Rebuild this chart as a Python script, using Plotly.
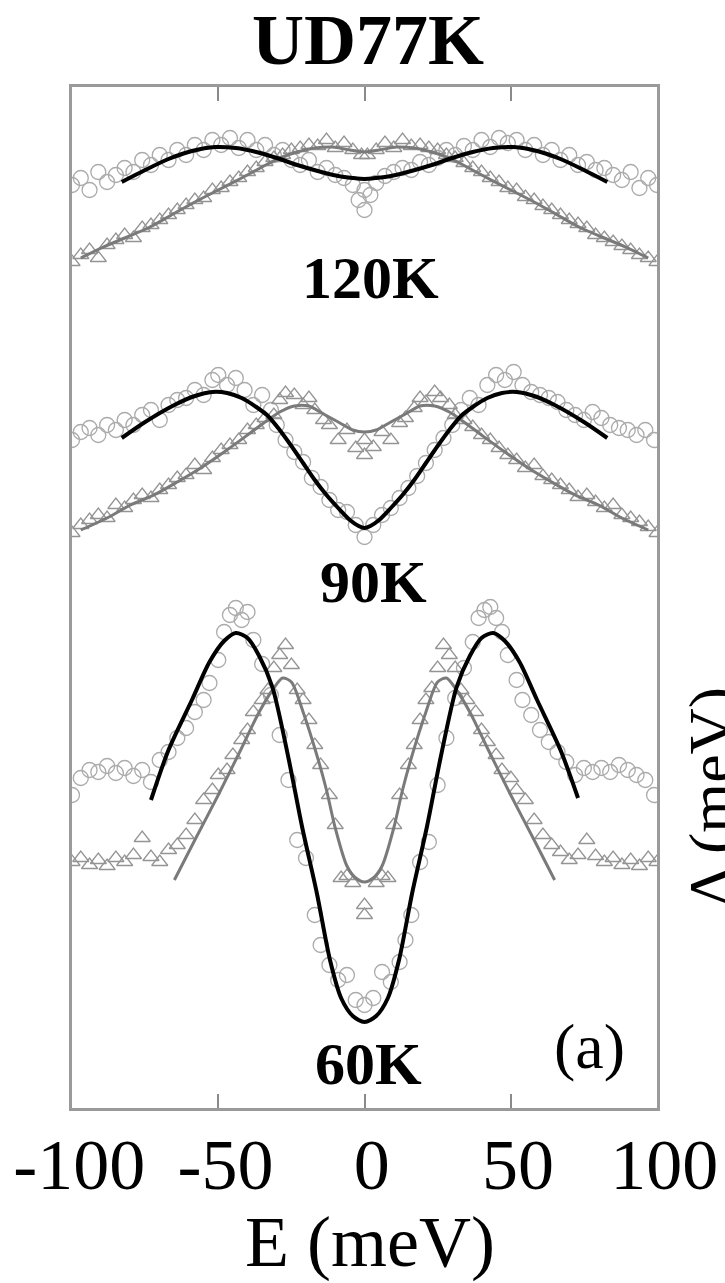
import plotly.graph_objects as go

# ---------------- data (E in meV, intensity in arbitrary units, panels offset) -------------
# 120 K
e_120_circ = [-100,-97,-94,-91,-88,-85,-82,-79,-76,-73,-70,-67,-64,-61,-58,-55,-52,-49,-46,-43,-40,-37,-34,-31,-28,-25,-22,-19,-16,-13,-10,-7,-4,-2,0,0,2,4,7,10,13,16,19,22,25,28,31,34,37,40,43,46,49,52,55,58,61,64,67,70,73,76,79,82,85,88,91,94,97,100]
y_120_circ = [923,930,918,936,926,933,940,936,948,943,953,948,958,953,963,958,968,963,970,960,968,958,963,953,958,948,943,948,936,940,933,930,923,908,918,898,913,925,932,936,940,938,946,943,950,958,953,962,958,968,961,970,965,968,958,963,953,958,948,953,943,946,938,940,933,928,936,920,930,923]
e_120_tri = [-100,-97,-94,-91,-88,-85,-82,-79,-76,-73,-70,-67,-64,-61,-58,-55,-52,-49,-46,-43,-40,-37,-34,-31,-28,-25,-22,-19,-16,-13,-10,-7,-4,-1,1,4,7,10,13,16,19,22,25,28,31,34,37,40,43,46,49,52,55,58,61,64,67,70,73,76,79,82,85,88,91,94,97,100]
y_120_tri = [846,853,858,850,863,868,873,870,880,883,888,893,898,903,908,910,918,920,926,930,936,940,946,950,953,958,960,963,962,968,960,965,958,953,953,958,965,960,968,962,963,960,958,953,950,945,940,936,930,926,920,918,911,908,902,898,893,888,884,880,873,870,866,862,858,853,850,846]
e_120_fit = [-83,-75,-67,-59,-51,-44,-37,-30,-23,-16,-9,-4,0,4,9,16,23,30,37,44,51,59,67,75,83]
y_120_fit = [926,938,949,957,961,960,956,950,943,937,932,930,929,930,932,937,943,950,956,960,961,957,949,938,926]
e_120_trifit = [-97,-90,-82,-74,-66,-58,-50,-42,-35,-29,-23,-17,-11,-5,0,5,11,17,23,29,35,42,50,58,66,74,82,90,97]
y_120_trifit = [850,860,870,880,893,906,918,930,941,950,956,960,961,958,956,958,961,960,956,950,941,930,918,906,893,880,870,860,850]

# 90 K
e_90_circ = [-100,-97,-94,-91,-88,-85,-82,-79,-76,-73,-70,-67,-64,-61,-58,-55,-52,-50,-47,-44,-41,-38,-35,-32,-30,-27,-24,-21,-18,-15,-12,-9,-6,-3,0,3,6,9,12,15,18,21,24,27,30,33,36,39,42,45,48,51,54,57,60,63,66,69,72,75,78,81,84,87,90,93,96,99]
y_90_circ = [668,676,680,673,683,678,688,683,693,698,688,703,708,710,718,713,728,733,723,730,718,703,713,698,683,668,656,646,630,621,608,598,596,583,571,583,593,600,610,620,632,645,658,670,683,698,710,703,723,733,728,736,723,716,713,710,706,698,693,688,696,690,683,680,678,673,678,668]
e_90_tri = [-100,-97,-94,-91,-88,-85,-82,-79,-76,-73,-70,-67,-64,-61,-58,-55,-52,-49,-46,-43,-40,-37,-34,-31,-29,-27,-24,-21,-19,-17,-14,-12,-9,-6,-3,0,0,3,6,9,12,14,17,19,21,24,26,29,31,34,37,40,43,46,49,52,55,58,61,64,67,70,73,76,79,82,85,88,91,94,97,100]
y_90_tri = [575,583,588,593,590,603,600,608,613,610,618,623,630,633,643,638,650,658,663,668,678,683,690,693,708,715,713,703,710,698,688,683,668,678,660,653,668,661,676,668,685,690,700,710,706,716,710,703,693,688,681,673,668,660,653,648,640,643,632,628,623,618,611,613,606,600,603,593,590,586,581,575]
e_90_fit = [-83,-75,-65,-58,-52,-47,-42,-37,-33,-29,-25,-21,-17,-13,-9,-5,-2,0,2,5,9,13,17,21,25,29,33,37,42,47,52,58,65,75,83]
y_90_fit = [670,686,703,712,716,715,710,701,692,678,662,645,628,613,600,588,582,580,582,588,600,613,628,645,662,678,692,701,710,715,716,712,703,686,670]
e_90_trifit = [-97,-88,-80,-72,-64,-56,-48,-40,-34,-29,-24,-19,-14,-9,-4,0,4,9,14,19,24,29,34,40,48,56,64,72,80,88,97]
y_90_trifit = [578,590,603,613,626,640,656,673,686,696,702,702,694,686,678,676,678,686,694,702,702,696,686,673,656,640,626,613,603,590,578]

# 60 K
e_60_circ = [-100,-97,-94,-91,-88,-85,-82,-79,-76,-73,-70,-67,-64,-61,-58,-55,-53,-50,-48,-46,-44,-42,-40,-38,-35,-32,-29,-26,-23,-20,-17,-15,-12,-9,-6,-3,0,3,6,9,12,14,16,19,22,25,28,31,34,37,39,41,43,45,47,49,52,54,57,60,63,66,69,72,75,78,81,84,87,90,93,96,99]
y_60_circ = [313,330,338,336,342,335,340,332,338,326,348,356,370,380,396,408,425,448,476,493,500,488,496,468,444,413,373,328,268,250,193,163,143,128,133,108,103,110,136,126,146,168,193,246,266,323,370,410,440,466,490,498,501,490,476,453,428,408,393,378,366,356,346,333,340,336,340,336,343,338,333,328,313]
e_60_tri = [-100,-97,-94,-91,-88,-85,-82,-79,-76,-73,-70,-67,-64,-61,-58,-55,-52,-50,-47,-45,-42,-40,-38,-35,-33,-31,-29,-27,-25,-23,-21,-19,-17,-15,-12,-10,-8,-6,-4,0,0,4,6,8,10,12,15,17,19,21,23,25,27,29,31,33,35,38,40,42,45,47,50,52,55,58,61,64,67,70,73,76,79,82,85,88,91,94,97,100]
y_60_tri = [246,250,243,248,242,250,246,253,270,251,246,258,263,273,288,308,318,333,338,353,368,378,396,408,418,440,453,463,443,418,408,388,363,343,313,283,230,232,225,203,193,225,232,230,283,313,343,363,388,408,420,440,463,453,440,418,408,396,378,366,353,338,330,318,308,288,273,263,256,248,253,268,252,246,250,243,248,242,250,246]
e_60_fit = [-73,-67,-59,-53,-48,-44,-40,-36,-31.5,-26,-21.4,-16.3,-11.8,-8,-4,0,4,8,11.8,16.3,21.4,26,31.5,36,40,44,48,53,59,67,73]
y_60_fit = [308,358,408,446,467,475,470,452,421,350,282,215,148,110,92,86,92,110,148,215,282,350,421,452,470,475,467,446,408,358,310]
e_60_trifit = [-65,-58,-50,-42,-36,-31,-28,-25,-21,-16,-13,-10,-6,-3,0,3,6,10,13,16,21,25,28,31,36,42,50,58,65]
y_60_trifit = [228,268,313,360,396,420,430,426,396,350,318,280,242,230,226,230,242,280,318,350,396,426,430,420,396,360,313,268,228]

temps = ["120K", "90K", "60K"]
temp_label_e = [2, 3, 1.5]
temp_label_y = [830, 526, 44]
x_ticks = [-100, -50, 0, 50, 100]
x_tick_text = ["\u2009-100", "\u2009-50", "\u20090", "\u200950", "\u2009100"]

# ---------------- styles ----------------
SERIF = "Liberation Serif, Times New Roman, serif"
CIRC_COL = "#ababab"
TRI_COL = "#949494"
TRIFIT_COL = "#7a7a7a"

fig = go.Figure()

panels = [
    (e_120_circ, y_120_circ, e_120_tri, y_120_tri, e_120_fit, y_120_fit, e_120_trifit, y_120_trifit),
    (e_90_circ, y_90_circ, e_90_tri, y_90_tri, e_90_fit, y_90_fit, e_90_trifit, y_90_trifit),
    (e_60_circ, y_60_circ, e_60_tri, y_60_tri, e_60_fit, y_60_fit, e_60_trifit, y_60_trifit),
]

for ec, yc, et, yt, ef, yf, etf, ytf in panels:
    fig.add_trace(go.Scatter(x=ec, y=yc, mode="markers",
                             marker=dict(symbol="circle-open", size=15, color=CIRC_COL,
                                         line=dict(width=1.3, color=CIRC_COL)),
                             showlegend=False, cliponaxis=True))
    fig.add_trace(go.Scatter(x=et, y=yt, mode="markers",
                             marker=dict(symbol="triangle-up-open", size=14, color=TRI_COL,
                                         line=dict(width=1.3, color=TRI_COL)),
                             showlegend=False, cliponaxis=True))
for ec, yc, et, yt, ef, yf, etf, ytf in panels:
    fig.add_trace(go.Scatter(x=etf, y=ytf, mode="lines",
                             line=dict(color=TRIFIT_COL, width=3, shape="spline", smoothing=0.8),
                             showlegend=False))
    fig.add_trace(go.Scatter(x=ef, y=yf, mode="lines",
                             line=dict(color="black", width=4, shape="spline", smoothing=0.8),
                             showlegend=False))

annotations = []
for t, ex, ey in zip(temps, temp_label_e, temp_label_y):
    annotations.append(dict(x=ex, y=ey, xref="x", yref="y", text="<b>%s</b>" % t,
                            showarrow=False, xanchor="center", yanchor="middle",
                            font=dict(family=SERIF, size=60, color="black")))
annotations += [
    dict(x=0.506, y=1.046, xref="paper", yref="paper", text="<b>UD77K</b>", showarrow=False,
         xanchor="center", yanchor="middle", font=dict(family=SERIF, size=72, color="black")),
    dict(x=77, y=62, xref="x", yref="y", text="(a)", showarrow=False,
         xanchor="center", yanchor="middle", font=dict(family=SERIF, size=64, color="black")),
    dict(x=0.51, y=-0.131, xref="paper", yref="paper", text="E (meV)", showarrow=False,
         xanchor="center", yanchor="middle", font=dict(family=SERIF, size=72, color="black")),
    dict(x=1.094, y=0.305, xref="paper", yref="paper", text="Δ (meV)", showarrow=False,
         textangle=-90, xanchor="center", yanchor="middle",
         font=dict(family=SERIF, size=64, color="black")),
]

fig.update_layout(
    width=725, height=1283,
    margin=dict(l=72, r=68, t=87, b=175, pad=0, autoexpand=False),
    paper_bgcolor="white", plot_bgcolor="white",
    showlegend=False,
    annotations=annotations,
    xaxis=dict(range=[-100, 100], tickvals=x_ticks, ticktext=x_tick_text,
               ticks="inside", ticklen=14, tickwidth=2, tickcolor="#8a8a8a",
               showline=True, linecolor="#9a9a9a", linewidth=3, mirror="ticks",
               showgrid=False, zeroline=False, automargin=False,
               ticklabelstandoff=-8, ticklabeloverflow="allow",
               tickfont=dict(family=SERIF, size=72, color="black")),
    yaxis=dict(range=[0, 1021], showticklabels=False, ticks="",
               showline=True, linecolor="#9a9a9a", linewidth=3, mirror=True,
               showgrid=False, zeroline=False, automargin=False),
)

fig.write_html("out.html", config={"displayModeBar": False},
               post_script="document.body.style.margin='0';document.body.style.overflow='hidden';")
